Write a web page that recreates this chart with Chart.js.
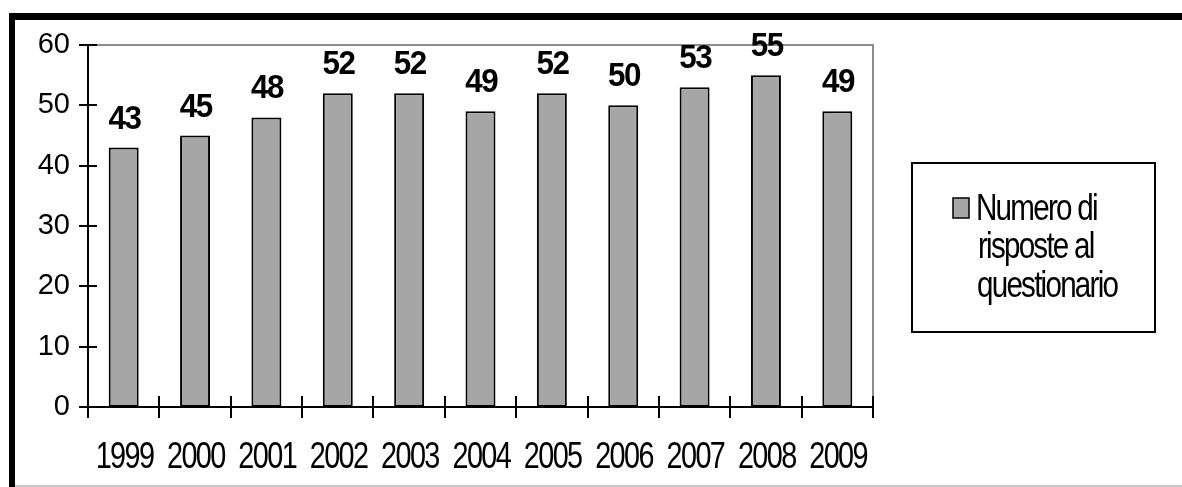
<!DOCTYPE html>
<html>
<head>
<meta charset="utf-8">
<script src="https://cdn.jsdelivr.net/npm/chart.js@4/dist/chart.umd.min.js"></script>
<style>
    html, body { margin: 0; padding: 0; background: #fff; }
    #wrap { width: 1182px; height: 487px; }
</style>
</head>
<body>
<div id="wrap"><canvas id="chart" width="1182" height="487"></canvas></div>
<script>
// Chart data
const years = ['1999', '2000', '2001', '2002', '2003', '2004', '2005', '2006', '2007', '2008', '2009'];
const responses = [43, 45, 48, 52, 52, 49, 52, 50, 53, 55, 49];
const yTicks = [0, 10, 20, 30, 40, 50, 60];
const seriesLabel = ['Numero di', 'risposte al', 'questionario'];

const FONT = '"Liberation Sans", Arial, sans-serif';

// Draws narrowed, tightly spaced text (the source picture is squeezed)
function squeezedText(ctx, text, x, y, font, sx, spacing, align) {
    ctx.save();
    ctx.font = font;
    ctx.letterSpacing = spacing + 'px';
    ctx.textAlign = align || 'left';
    ctx.textBaseline = 'alphabetic';
    ctx.fillStyle = '#000';
    ctx.translate(x, y);
    ctx.scale(sx, 1);
    // negative spacing shifts centred text; compensate half of it
    const shift = align === 'center' ? -spacing / 2 : 0;
    ctx.fillText(text, shift, 0);
    ctx.restore();
}

// Outer frame, plot box and crossing tick marks
const framePlugin = {
    id: 'frame',
    beforeDraw(chart) {
        const ctx = chart.ctx;
        ctx.save();
        ctx.fillStyle = '#000';
        ctx.fillRect(9, 13, 1173, 7);
        ctx.fillRect(9, 13, 6, 474);
        ctx.fillStyle = '#c8c8c8';
        ctx.fillRect(15, 485, 1167, 2);
        ctx.restore();
    },
    afterDatasetsDraw(chart) {
        const ctx = chart.ctx;
        const area = chart.chartArea;
        const x = chart.scales.x;
        const y = chart.scales.y;
        ctx.save();
        // gray top and right sides of the plot box
        ctx.strokeStyle = '#8c8c8c';
        ctx.lineWidth = 2;
        ctx.beginPath();
        ctx.moveTo(area.left, area.top);
        ctx.lineTo(area.right, area.top);
        ctx.lineTo(area.right, area.bottom);
        ctx.stroke();
        // axes
        ctx.strokeStyle = '#000';
        ctx.beginPath();
        ctx.moveTo(area.left, area.top);
        ctx.lineTo(area.left, area.bottom);
        ctx.lineTo(area.right, area.bottom);
        ctx.stroke();
        // y ticks crossing the axis
        ctx.beginPath();
        yTicks.forEach(v => {
            const py = Math.round(y.getPixelForValue(v));
            ctx.moveTo(area.left - 9, py);
            ctx.lineTo(area.left + 9, py);
        });
        // x ticks at category boundaries
        const step = (area.right - area.left) / years.length;
        for (let i = 0; i <= years.length; i++) {
            const px = Math.round(x.getPixelForValue(i) - step / 2);
            ctx.moveTo(px, area.bottom - 11);
            ctx.lineTo(px, area.bottom + 11);
        }
        ctx.stroke();
        ctx.restore();

        // category labels
        years.forEach((yr, i) => {
            squeezedText(ctx, yr, x.getPixelForValue(i), 468, '36px ' + FONT, 0.8, -2, 'center');
        });
    }
};

// Value labels above the bars
const valueLabelPlugin = {
    id: 'valueLabels',
    afterDatasetsDraw(chart) {
        const ctx = chart.ctx;
        const meta = chart.getDatasetMeta(0);
        meta.data.forEach((bar, i) => {
            squeezedText(ctx, String(responses[i]), bar.x, bar.y - 19, 'bold 33px ' + FONT, 0.95, -1.5, 'center');
        });
    }
};

// Boxed legend on the right
const boxLegendPlugin = {
    id: 'boxLegend',
    afterDraw(chart) {
        const ctx = chart.ctx;
        const ds = chart.data.datasets[0];
        ctx.save();
        ctx.strokeStyle = '#000';
        ctx.lineWidth = 2;
        ctx.strokeRect(912, 163, 243, 169);
        ctx.fillStyle = ds.backgroundColor;
        ctx.fillRect(953, 198, 16, 20);
        ctx.lineWidth = 1.5;
        ctx.strokeRect(953, 198, 16, 20);
        ctx.restore();
        const font = '37px ' + FONT;
        squeezedText(ctx, seriesLabel[0], 976, 220, font, 0.8, -2.2);
        squeezedText(ctx, seriesLabel[1], 978, 258, font, 0.8, -2.2);
        squeezedText(ctx, seriesLabel[2], 977, 297, font, 0.8, -2.2);
    }
};

new Chart(document.getElementById('chart'), {
    type: 'bar',
    data: {
        labels: years,
        datasets: [{
            label: seriesLabel.join(' '),
            data: responses,
            backgroundColor: '#a6a6a6',
            borderColor: '#000',
            borderWidth: 2,
            borderSkipped: false,
            barPercentage: 0.42,
            categoryPercentage: 1
        }]
    },
    options: {
        responsive: false,
        animation: false,
        devicePixelRatio: 1,
        layout: {
            padding: { left: 0, top: 45, right: 309, bottom: 0 }
        },
        scales: {
            x: {
                offset: true,
                grid: { display: false, drawTicks: false },
                border: { display: false },
                ticks: { display: false },
                afterFit(scale) { scale.height = 80; }
            },
            y: {
                min: 0,
                max: 60,
                afterBuildTicks(scale) {
                    scale.ticks = yTicks.map(v => ({ value: v }));
                },
                grid: { display: false, drawTicks: false },
                border: { display: false },
                ticks: {
                    color: '#000',
                    font: { family: FONT, size: 29 },
                    padding: 18
                },
                afterFit(scale) { scale.width = 88; }
            }
        },
        plugins: {
            legend: { display: false },
            tooltip: { enabled: false }
        }
    },
    plugins: [framePlugin, valueLabelPlugin, boxLegendPlugin]
});
</script>
</body>
</html>
